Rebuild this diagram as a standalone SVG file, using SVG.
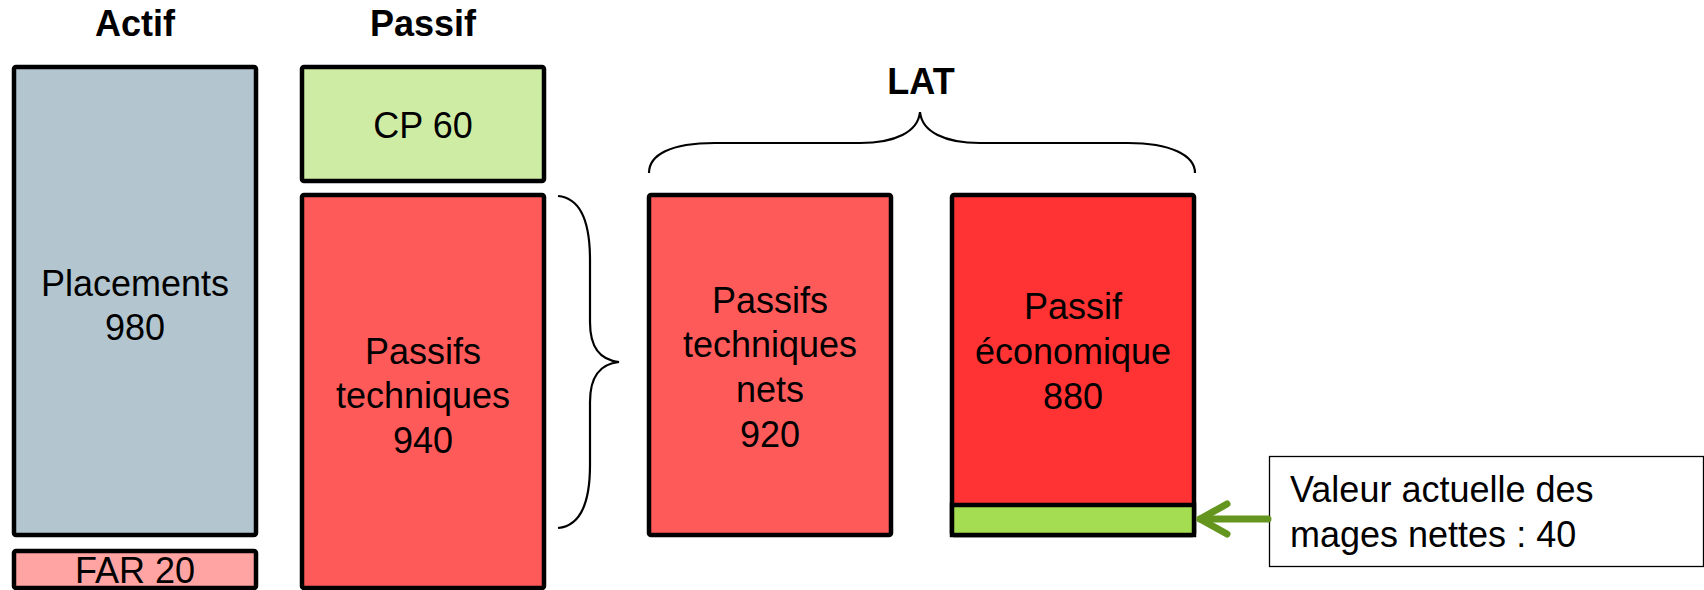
<svg xmlns="http://www.w3.org/2000/svg" width="1704" height="590" viewBox="0 0 1704 590">
<style>
.box{stroke:#000;stroke-width:4.5}
.t{font-family:"Liberation Sans",Arial,sans-serif;font-size:36px;fill:#000;text-anchor:middle}
.h{font-family:"Liberation Sans",Arial,sans-serif;font-size:36px;font-weight:bold;fill:#000;text-anchor:middle}
.brace{fill:none;stroke:#000;stroke-width:2.2}
</style>
<rect width="1704" height="590" fill="#fff"/>
<g id="titles">
<text class="h" x="135" y="36">Actif</text>
<text class="h" x="423" y="36">Passif</text>
<text class="h" x="921" y="94">LAT</text>
</g>
<g id="placements">
<rect class="box" x="14" y="67" width="242" height="468" rx="2" fill="#b3c5ce"/>
<text class="t" x="135" y="296">Placements</text>
<text class="t" x="135" y="340">980</text>
</g>
<g id="far">
<rect class="box" x="14" y="551" width="242" height="37" rx="2" fill="#ffa3a3"/>
<text class="t" x="135" y="583">FAR 20</text>
</g>
<g id="cp">
<rect class="box" x="302" y="67" width="242" height="114" rx="2" fill="#ceeca3"/>
<text class="t" x="423" y="138">CP 60</text>
</g>
<g id="passifs-techniques">
<rect class="box" x="302" y="195" width="242" height="393" rx="2" fill="#ff5a5a"/>
<text class="t" x="423" y="364">Passifs</text>
<text class="t" x="423" y="408">techniques</text>
<text class="t" x="423" y="453">940</text>
</g>
<g id="passifs-nets">
<rect class="box" x="649" y="195" width="242" height="340" rx="2" fill="#ff5a5a"/>
<text class="t" x="770" y="313">Passifs</text>
<text class="t" x="770" y="357">techniques</text>
<text class="t" x="770" y="402">nets</text>
<text class="t" x="770" y="447">920</text>
</g>
<g id="passif-economique">
<rect class="box" x="952" y="195" width="242" height="340" rx="2" fill="#ff3333"/>
<rect class="box" x="952" y="505" width="242" height="30" fill="#a5dd52"/>
<text class="t" x="1073" y="319">Passif</text>
<text class="t" x="1073" y="364">économique</text>
<text class="t" x="1073" y="409">880</text>
</g>
<g id="note">
<rect x="1269.5" y="456.5" width="434" height="110" fill="#fff" stroke="#000" stroke-width="1.3"/>
<text class="t" style="text-anchor:start" x="1290" y="502">Valeur actuelle des</text>
<text class="t" style="text-anchor:start" x="1290" y="547">mages nettes : 40</text>
</g>
<g id="connectors">
<path class="brace" d="M558,196 C580,198 590,220 590,260 L590,322 C590,348 600,360 619,362 C600,364 590,376 590,402 L590,465 C590,505 580,526 558,528"/>
<path class="brace" d="M649,173 C649,155 670,143 715,143 L860,143 C895,143 918,132 920,112 C922,132 945,143 980,143 L1128,143 C1170,143 1195,155 1195,173"/>
<g stroke="#64961f" stroke-width="7" stroke-linecap="round" stroke-linejoin="round" fill="none">
<line x1="1268" y1="519" x2="1200" y2="519"/>
<polyline points="1227,504 1200,519 1227,534"/>
</g>
</g>
</svg>
